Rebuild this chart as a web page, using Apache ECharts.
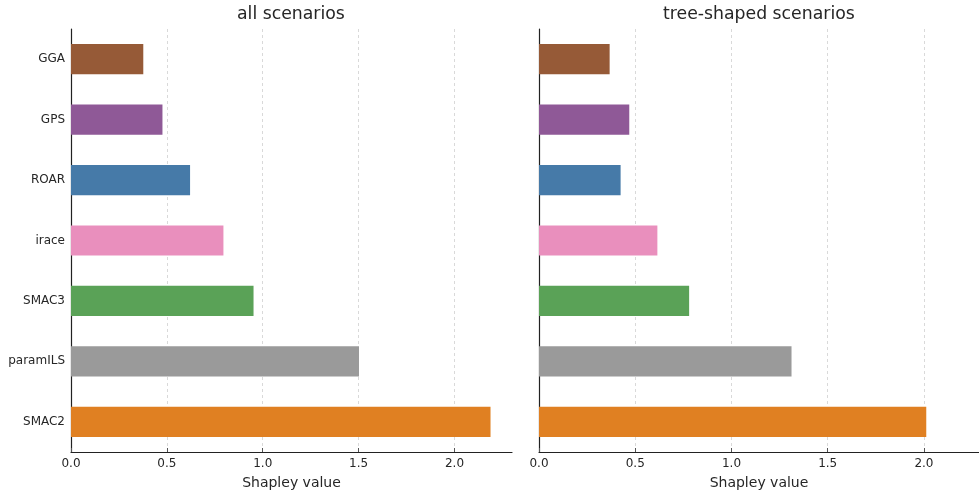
<!DOCTYPE html>
<html>
<head>
<meta charset="utf-8">
<script src="https://cdn.jsdelivr.net/npm/echarts@6/dist/echarts.min.js"></script>
<style>
  html, body { margin: 0; padding: 0; background: #fff; }
  #chart { width: 979px; height: 495px; }
</style>
</head>
<body>
<div id="chart"></div>
<script>
// Configurators, listed top to bottom
const configurators = ['GGA', 'GPS', 'ROAR', 'irace', 'SMAC3', 'paramILS', 'SMAC2'];
// Shapley value of each configurator over all scenarios
const shapleyAll = [0.377, 0.477, 0.621, 0.795, 0.952, 1.502, 2.188];
// Shapley value of each configurator over tree-shaped scenarios
const shapleyTree = [0.367, 0.469, 0.424, 0.615, 0.780, 1.312, 2.012];
// Tick values on the shared value axis
const xTicks = [0, 0.5, 1.0, 1.5, 2.0];
const panelTitles = ['all scenarios', 'tree-shaped scenarios'];
const axisName = 'Shapley value';

const barColors = ['#965a37', '#8f5997', '#467aa8', '#e98fbd', '#5aa257', '#9a9a9a', '#e08022'];

const FONT = 'DejaVu Sans';
const TEXT = '#262626';

function barData(values) {
  return values.map((v, i) => ({ value: v, itemStyle: { color: barColors[i] } }));
}

function xAxis(gridIndex, max) {
  return {
    type: 'value',
    gridIndex,
    min: 0,
    max,
    name: axisName,
    nameLocation: 'middle',
    nameGap: 24,
    nameTextStyle: { fontFamily: FONT, fontSize: 14, color: TEXT },
    axisLine: { show: true, lineStyle: { color: '#222', width: 1.2 } },
    axisTick: { show: true, inside: true, length: 4, lineStyle: { color: '#555' }, customValues: xTicks },
    axisLabel: {
      customValues: xTicks,
      fontFamily: FONT, fontSize: 12, color: TEXT, margin: 6,
      formatter: v => v.toFixed(1)
    },
    splitLine: { show: true, lineStyle: { color: '#d9d9d9', type: [3, 3], width: 1 } }
  };
}

function yAxis(gridIndex, showLabels) {
  return {
    type: 'category',
    gridIndex,
    data: configurators,
    inverse: true,
    axisLine: { show: true, lineStyle: { color: '#222', width: 1.2 } },
    axisTick: { show: false },
    axisLabel: { show: showLabels, fontFamily: FONT, fontSize: 12, color: TEXT, margin: 6 },
    splitLine: { show: false }
  };
}

const chart = echarts.init(document.getElementById('chart'), null, { renderer: 'canvas' });
chart.setOption({
  animation: false,
  backgroundColor: '#fff',
  title: [
    { text: panelTitles[0], left: 237, top: 6, padding: 0,
      textStyle: { fontFamily: FONT, fontSize: 17.3, fontWeight: 'normal', color: TEXT } },
    { text: panelTitles[1], left: 663, top: 6, padding: 0,
      textStyle: { fontFamily: FONT, fontSize: 17.3, fontWeight: 'normal', color: TEXT } }
  ],
  grid: [
    { left: 71, right: 467, top: 29, bottom: 42 },
    { left: 539, right: 0, top: 29, bottom: 42 }
  ],
  xAxis: [xAxis(0, 2.3), xAxis(1, 2.286)],
  yAxis: [yAxis(0, true), yAxis(1, false)],
  series: [
    { type: 'bar', xAxisIndex: 0, yAxisIndex: 0, barWidth: '50%', data: barData(shapleyAll) },
    { type: 'bar', xAxisIndex: 1, yAxisIndex: 1, barWidth: '50%', data: barData(shapleyTree) }
  ]
});
</script>
</body>
</html>
